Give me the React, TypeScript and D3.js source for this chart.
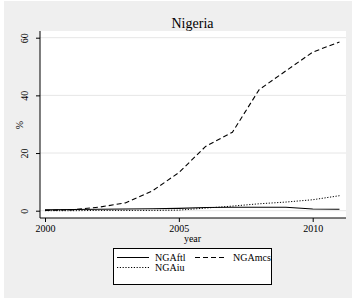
import React, { useEffect, useRef } from 'react';
import * as d3 from 'd3';

const years = [2000, 2001, 2002, 2003, 2004, 2005, 2006, 2007, 2008, 2009, 2010, 2011];
const ngaFtl = [0.3, 0.4, 0.5, 0.6, 0.7, 0.8, 1.1, 1.2, 1.2, 1.2, 0.6, 0.5];
const ngaMcs = [0.1, 0.3, 1.2, 2.7, 6.8, 13.2, 22.3, 27.2, 42.0, 48.5, 55.0, 58.5];
const ngaIu = [0.0, 0.0, 0.1, 0.1, 0.1, 0.2, 0.9, 1.6, 2.4, 3.0, 3.8, 5.2];
const xTicks = [2000, 2005, 2010];
const yTicks = [0, 20, 40, 60];

const series = [
    { name: 'NGAftl', values: ngaFtl, dash: null },
    { name: 'NGAmcs', values: ngaMcs, dash: '5,3' },
    { name: 'NGAiu', values: ngaIu, dash: '1.2,1.6' },
];

const App = () => {
    const ref = useRef<SVGSVGElement>(null);

    useEffect(() => {
        const svg = d3.select(ref.current);
        svg.selectAll('*').remove();
        const font = '"Liberation Serif", "Times New Roman", serif';

        // 背景
        svg.append('rect').attr('x', 4).attr('y', 1).attr('width', 348).attr('height', 297).attr('fill', '#efefef');

        const plot = { left: 40, right: 346, top: 31, bottom: 218 };
        svg.append('rect')
            .attr('x', plot.left).attr('y', plot.top)
            .attr('width', plot.right - plot.left).attr('height', plot.bottom - plot.top)
            .attr('fill', '#fff');

        const x = d3.scaleLinear().domain([2000, 2010]).range([45, 312.7]);
        const y = d3.scaleLinear().domain([0, 60]).range([210.7, 37.7]);

        // grid
        svg.append('g').selectAll('line').data(yTicks).enter().append('line')
            .attr('x1', plot.left).attr('x2', plot.right)
            .attr('y1', d => y(d)).attr('y2', d => y(d))
            .attr('stroke', '#e6e6e6').attr('stroke-width', 1);

        const yAxis = d3.axisLeft(y).tickValues(yTicks).tickSize(4);
        const gy = svg.append('g').attr('transform', `translate(${plot.left},0)`).call(yAxis);
        gy.select('.domain').attr('d', `M0,${plot.top}V${plot.bottom}`).attr('stroke', '#000');
        gy.selectAll('.tick text')
            .attr('font-family', font).attr('font-size', 10).attr('fill', '#000')
            .attr('text-anchor', 'middle')
            .attr('transform', 'rotate(-90)')
            .attr('x', 0)
            .attr('y', -12)
            .attr('dy', '0');

        const xAxis = d3.axisBottom(x).tickValues(xTicks).tickFormat(d3.format('d')).tickSize(4).tickPadding(3);
        const gx = svg.append('g').attr('transform', `translate(0,${plot.bottom})`).call(xAxis);
        gx.select('.domain').attr('d', `M${plot.left},0H${plot.right}`).attr('stroke', '#000');
        gx.selectAll('text').attr('font-family', font).attr('font-size', 10).attr('fill', '#000');

        svg.append('text').attr('x', 192.5).attr('y', 28).attr('text-anchor', 'middle')
            .attr('font-family', font).attr('font-size', 14).text('Nigeria');
        svg.append('text').attr('x', 192.5).attr('y', 242).attr('text-anchor', 'middle')
            .attr('font-family', font).attr('font-size', 10).text('year');
        svg.append('text').attr('transform', `translate(23,125) rotate(-90)`).attr('text-anchor', 'middle')
            .attr('font-family', font).attr('font-size', 10).text('%');

        const line = d3.line<number>().x((d, i) => x(years[i])).y(d => y(d));
        series.forEach(s => {
            svg.append('path').datum(s.values)
                .attr('d', line)
                .attr('fill', 'none')
                .attr('stroke', '#000')
                .attr('stroke-width', s.dash === '1.2,1.6' ? 1 : 1.1)
                .attr('stroke-dasharray', s.dash);
        });

        // legend
        const lg = svg.append('g');
        lg.append('rect').attr('x', 113.5).attr('y', 248.5).attr('width', 158).attr('height', 36)
            .attr('fill', '#fff').attr('stroke', '#000');
        const pos = [[117, 257.5], [195, 257.5], [117, 267.5]];
        series.forEach((s, i) => {
            const [lx, ly] = pos[i];
            lg.append('line').attr('x1', lx).attr('x2', lx + 32).attr('y1', ly).attr('y2', ly)
                .attr('stroke', '#000').attr('stroke-width', 1).attr('stroke-dasharray', s.dash);
            lg.append('text').attr('x', lx + 38).attr('y', ly + 3.5)
                .attr('font-family', font).attr('font-size', 10).text(s.name);
        });
    }, []);

    return <svg ref={ref} width={352} height={300} style={{ position: 'absolute', left: 0, top: 0 }} />;
};

export default App;
